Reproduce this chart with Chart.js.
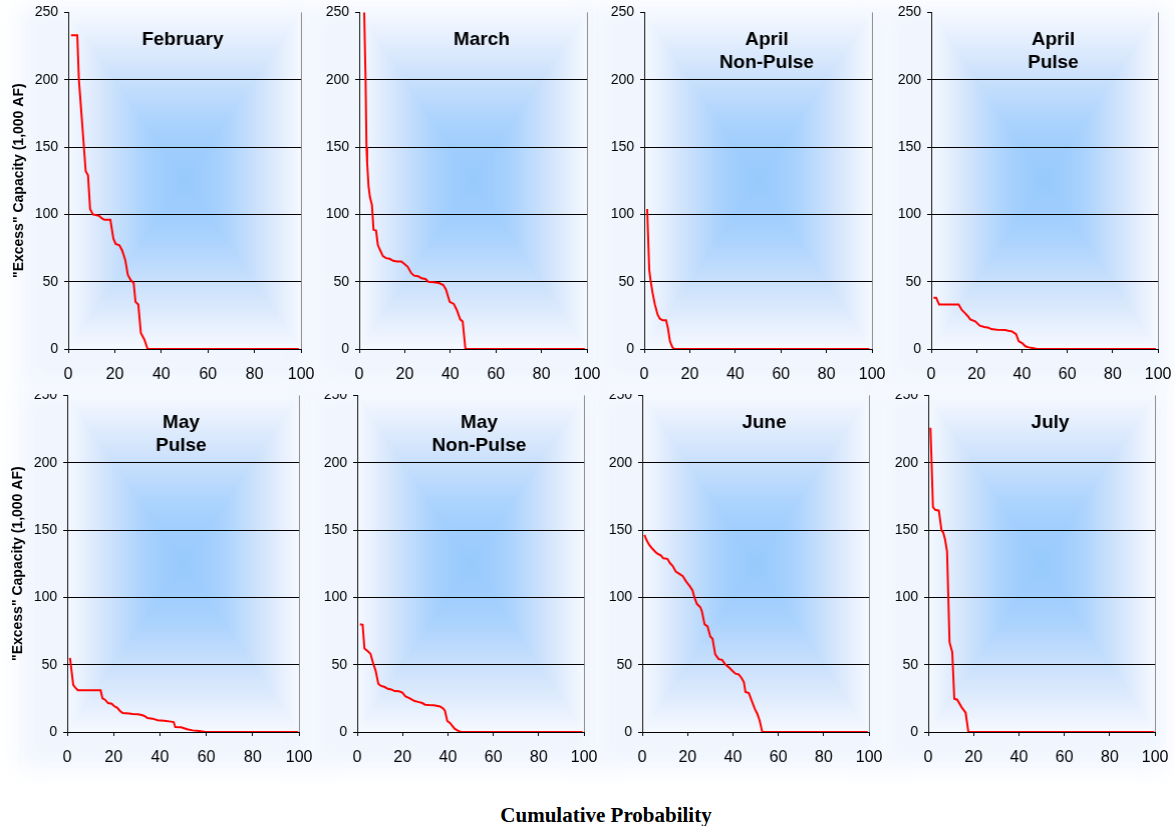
<!DOCTYPE html>
<html>
<head>
<meta charset="utf-8">
<script src="https://cdn.jsdelivr.net/npm/chart.js@4.4.1/dist/chart.umd.min.js"></script>
<style>
  html, body { margin: 0; padding: 0; background: #ffffff; }
  #page { position: relative; width: 1175px; height: 826px; overflow: hidden; background: #ffffff; }
  .glow { position: absolute; background: #f0f5fe; filter: blur(12px); }
  .panel { position: absolute; display: block; }
  #upper { position: absolute; left: 0; top: 0; width: 1175px; height: 394px; }
  #lower { position: absolute; left: 0; top: 394px; width: 1175px; height: 432px; overflow: hidden; }
  #xtitle { position: absolute; left: 0; top: 803px; width: 1212px; text-align: center;
            font: bold 21px/24px "Liberation Serif", "Times New Roman", serif; color: #000; }
</style>
</head>
<body>
<div id="page">
  <div id="glows"></div>
  <div id="upper"></div>
  <div id="lower"></div>
  <div id="xtitle"></div>
</div>
<script>
// ---- chart values -------------------------------------------------------
const panelTitles = [
  ['February'], ['March'], ['April', 'Non-Pulse'], ['April', 'Pulse'],
  ['May', 'Pulse'], ['May', 'Non-Pulse'], ['June'], ['July']
];
const xTicks = [0, 20, 40, 60, 80, 100];
const yTicks = [0, 50, 100, 150, 200, 250];
const yAxisTitle = '"Excess" Capacity (1,000 AF)';
const xAxisTitle = 'Cumulative Probability';

const febX = [1.2, 3.9, 4.6, 7.5, 8.5, 9.4, 10.6, 13.2, 14.5, 15.5, 18.1, 19.4, 20.4, 22.0, 23.2, 24.5, 25.6, 26.9, 28.1, 28.9, 30.1, 31.2, 32.7, 34.1, 99.0];
const febY = [233, 233, 200, 132, 129, 104, 100, 99, 97, 96, 96, 82, 78, 77, 73, 66, 55, 51, 49, 35, 33, 12, 7, 0, 0];

const marX = [1.2, 2.2, 2.8, 3.2, 3.5, 4.1, 4.7, 5.6, 6.3, 7.4, 8.2, 9.3, 10.4, 11.8, 13.4, 14.9, 16.6, 18.5, 20.0, 21.3, 22.8, 24.1, 25.9, 27.4, 29.1, 30.3, 32.8, 35.0, 36.9, 38.1, 39.7, 41.5, 42.8, 44.3, 45.4, 46.6, 99.0];
const marY = [340, 250, 200, 150, 138, 121, 113, 107, 88.5, 88, 77, 73, 69, 67.5, 67, 65.5, 65, 65, 63, 61, 56.5, 54.5, 54, 52.5, 52, 50, 49.5, 49, 47.5, 44, 35, 33.5, 29, 22, 20.5, 0, 0];

const aprNonPulseX = [1.3, 2.2, 2.8, 3.7, 4.7, 5.9, 6.9, 8.1, 9.6, 10.4, 11.3, 12.4, 13.2, 98.8];
const aprNonPulseY = [104, 59, 51, 41.5, 33, 25.5, 22.5, 21.3, 21.3, 15.6, 5.7, 1.2, 0, 0];

const aprPulseX = [1.0, 2.2, 3.5, 12.1, 13.5, 14.7, 16.1, 17.2, 19.4, 21.4, 23.4, 25.3, 26.4, 29.0, 32.7, 34.5, 35.6, 37.4, 38.6, 40.1, 41.5, 43.0, 45.2, 46.7, 99.0];
const aprPulseY = [38, 38, 33, 33, 29, 27, 24.5, 22, 20.5, 17.3, 16.3, 15.8, 14.8, 14.3, 14.1, 13.3, 13.1, 11.1, 5.7, 4.4, 2, 1.2, 0.5, 0, 0];

const mayPulseX = [1.2, 2.6, 3.5, 4.6, 14.4, 15.2, 16.3, 17.6, 19.2, 20.2, 21.6, 22.8, 23.9, 26.7, 28.1, 30.6, 32.5, 33.6, 34.6, 36.8, 39.0, 41.8, 44.7, 45.9, 46.6, 49.1, 51.7, 54.1, 57.0, 59.6, 99.6];
const mayPulseY = [55, 35, 33, 31, 31, 25, 24, 21.5, 21, 19.3, 18, 15.6, 14.1, 13.8, 13.3, 13.1, 12.4, 11.6, 10.4, 9.9, 8.7, 8.4, 7.7, 7.4, 3.7, 3.5, 2, 1.2, 0.7, 0, 0];

const mayNonPulseX = [1.2, 2.4, 3.2, 4.7, 5.9, 7.1, 8.1, 9.3, 10.3, 12.1, 13.5, 15.0, 16.5, 18.4, 19.9, 21.3, 23.2, 25.3, 27.2, 28.7, 29.9, 31.6, 33.8, 36.5, 38.0, 38.7, 39.7, 40.9, 42.9, 44.1, 45.6, 99.3];
const mayNonPulseY = [80, 79.6, 62, 60, 58, 50.7, 45.7, 35.8, 34.4, 33.4, 32.1, 31.6, 30.4, 30.2, 29.2, 26.5, 25, 23, 22.2, 21.5, 20.3, 20, 19.8, 19, 17.3, 15.6, 8.2, 6.7, 2.5, 1.2, 0, 0];

const junX = [1.0, 1.9, 3.1, 4.6, 6.4, 8.3, 9.3, 11.1, 12.3, 13.4, 14.8, 16.4, 17.9, 19.4, 21.1, 22.2, 23.0, 24.1, 25.6, 26.3, 27.5, 28.8, 30.0, 31.0, 32.2, 33.7, 35.2, 36.6, 38.1, 39.6, 41.1, 42.5, 43.7, 44.8, 45.5, 47.0, 48.2, 49.6, 50.7, 51.8, 52.9, 99.4];
const junY = [146.4, 142.6, 138.9, 135.9, 132.8, 131, 129, 128.6, 125.3, 123.4, 119.2, 117.4, 115.7, 111.7, 108, 105.1, 100.1, 95.2, 92.7, 89.7, 79.9, 78.4, 71, 69.2, 57.6, 54.1, 53.6, 50.2, 48.2, 45.7, 43.3, 42.8, 40.3, 37.1, 29.7, 28.9, 23.5, 17.3, 13.6, 8.2, 0, 0];

const julX = [1.0, 1.5, 2.1, 3.1, 4.7, 5.9, 6.6, 7.4, 8.3, 9.4, 10.6, 11.5, 12.8, 14.7, 16.5, 17.7, 99.6];
const julY = [226, 200, 167, 165, 164.4, 149.6, 148.3, 143.4, 134.2, 66.7, 59.3, 24.7, 24, 18.5, 14.3, 0, 0];

const seriesX = [febX, marX, aprNonPulseX, aprPulseX, mayPulseX, mayNonPulseX, junX, julX];
const seriesY = [febY, marY, aprNonPulseY, aprPulseY, mayPulseY, mayNonPulseY, junY, julY];

// ---- page layout (plot-area pixel bounds) -------------------------------
const rows = [{ top: 12, bottom: 349 }, { top: 395, bottom: 732 }];
const panels = [
  { x0: 68,  x1: 300,  row: 0, yTitle: true,  titleShift: -2 },
  { x0: 359, x1: 586,  row: 0, yTitle: false, titleShift: 8.5 },
  { x0: 644, x1: 871,  row: 0, yTitle: false, titleShift: 8.5 },
  { x0: 931, x1: 1157, row: 0, yTitle: false, titleShift: 8.5 },
  { x0: 67,  x1: 298,  row: 1, yTitle: true,  titleShift: -2 },
  { x0: 357, x1: 583,  row: 1, yTitle: false, titleShift: 8.5 },
  { x0: 642, x1: 868,  row: 1, yTitle: false, titleShift: 8.5 },
  { x0: 928, x1: 1154, row: 1, yTitle: false, titleShift: 8.5 }
];
const LOWER_TOP = 394;
const SANS = '"Liberation Sans", Arial, sans-serif';

// plot area fill: rectangular gradient, pale at the edges, blue at the centre
const fillStops = [
  [0.00, '#f6f9ff'], [0.08, '#edf4fe'], [0.20, '#e0ecfd'], [0.35, '#cfe3fc'],
  [0.50, '#bddbfd'], [0.65, '#abd3fd'], [0.80, '#a0cefd'], [1.00, '#98cafd']
];

const plotFill = {
  id: 'plotFill',
  beforeDraw(chart) {
    const { ctx, chartArea: { left, top, right, bottom } } = chart;
    const cx = (left + right) / 2, cy = (top + bottom) / 2;
    ctx.save();
    const gv = ctx.createLinearGradient(0, top, 0, bottom);
    fillStops.forEach(([t, c]) => { gv.addColorStop(t / 2, c); gv.addColorStop(1 - t / 2, c); });
    ctx.fillStyle = gv;
    ctx.fillRect(left, top, right - left, bottom - top);
    ctx.beginPath();
    ctx.moveTo(left, top); ctx.lineTo(cx, cy); ctx.lineTo(left, bottom); ctx.closePath();
    ctx.moveTo(right, top); ctx.lineTo(cx, cy); ctx.lineTo(right, bottom); ctx.closePath();
    ctx.clip();
    const gh = ctx.createLinearGradient(left, 0, right, 0);
    fillStops.forEach(([t, c]) => { gh.addColorStop(t / 2, c); gh.addColorStop(1 - t / 2, c); });
    ctx.fillStyle = gh;
    ctx.fillRect(left, top, right - left, bottom - top);
    ctx.restore();
  }
};

// panel heading drawn inside the top of the plot area
const panelHeading = {
  id: 'panelHeading',
  afterDraw(chart, args, opts) {
    const { ctx, chartArea: { left, right, top } } = chart;
    ctx.save();
    ctx.font = 'bold 19px ' + SANS;
    ctx.fillStyle = '#000';
    ctx.textAlign = 'center';
    ctx.textBaseline = 'alphabetic';
    const x = (left + right) / 2 + opts.shift;
    opts.lines.forEach((line, i) => ctx.fillText(line, x, top + 33 + i * 22.8));
    ctx.restore();
  }
};

const glows = document.getElementById('glows');
const upper = document.getElementById('upper');
const lower = document.getElementById('lower');
document.getElementById('xtitle').textContent = xAxisTitle;

function buildChart(cv, i, p, L, T, R, B, w, h) {
  cv.width = w; cv.height = h;
  cv.style.width = w + 'px'; cv.style.height = h + 'px';
  const points = seriesX[i].map((x, k) => ({ x: x, y: seriesY[i][k] }));
  return new Chart(cv, {
    type: 'line',
    data: {
      datasets: [{
        data: points,
        borderColor: '#ff0000',
        borderWidth: 2,
        pointRadius: 0,
        tension: 0,
        fill: false
      }]
    },
    options: {
      responsive: false,
      animation: false,
      events: [],
      layout: { padding: { left: 0, top: T, right: R, bottom: 0 } },
      plugins: {
        legend: { display: false },
        tooltip: { enabled: false },
        panelHeading: { lines: panelTitles[i], shift: p.titleShift }
      },
      scales: {
        x: {
          type: 'linear',
          min: 0, max: 100,
          afterBuildTicks: (s) => { s.ticks = xTicks.map(v => ({ value: v })); },
          afterFit: (s) => { s.height = B; },
          ticks: { color: '#000', font: { family: SANS, size: 16 }, padding: 11.5, maxRotation: 0, autoSkip: false },
          grid: {
            drawOnChartArea: true,
            color: (c) => (c.tick && c.tick.value === 100) ? '#8c8c8c' : 'rgba(0,0,0,0)',
            tickColor: '#000',
            tickLength: 4,
            lineWidth: 1
          },
          border: { display: true, color: '#000', width: 1 }
        },
        y: {
          type: 'linear',
          min: 0, max: 250,
          afterBuildTicks: (s) => { s.ticks = yTicks.map(v => ({ value: v })); },
          afterFit: (s) => { s.width = L; },
          ticks: { color: '#000', font: { family: SANS, size: 14 }, padding: 6 },
          grid: {
            color: (c) => (c.tick && (c.tick.value === 0 || c.tick.value === 250)) ? 'rgba(0,0,0,0)' : '#000',
            tickColor: '#000',
            tickLength: 4,
            lineWidth: 1
          },
          border: { display: true, color: '#111', width: 1 },
          title: {
            display: p.yTitle,
            text: yAxisTitle,
            color: '#000',
            font: { family: SANS, size: 14, weight: 'bold' },
            padding: { top: p.row === 0 ? 10.6 : 9.6, bottom: 0 }
          }
        }
      }
    },
    plugins: [plotFill, panelHeading]
  });
}

panels.forEach((p, i) => {
  const row = rows[p.row];
  const L = p.yTitle ? p.x0 : 60, T = 12, R = 18, B = 44;
  const wantW = p.x1 - p.x0, wantH = row.bottom - row.top;
  let w = wantW + L + R;
  let h = wantH + T + B;

  const g = document.createElement('div');
  g.className = 'glow';
  g.style.left = (p.x0 - 48) + 'px';
  g.style.top = (row.top - 6) + 'px';
  g.style.width = (wantW + 60) + 'px';
  g.style.height = (wantH + 42) + 'px';
  glows.appendChild(g);

  const holder = p.row === 1 ? lower : upper;
  const offY = p.row === 1 ? LOWER_TOP : 0;

  // first pass measures how the library lays out the plot area, second pass uses the corrected size
  let cv = document.createElement('canvas');
  cv.className = 'panel';
  holder.appendChild(cv);
  let chart = buildChart(cv, i, p, L, T, R, B, w, h);
  for (let pass = 0; pass < 2; pass++) {
    const a = chart.chartArea;
    const dw = wantW - (a.right - a.left);
    const dh = wantH - (a.bottom - a.top);
    if (Math.abs(dw) < 0.01 && Math.abs(dh) < 0.01) break;
    w += dw; h += dh;
    chart.destroy();
    cv.remove();
    cv = document.createElement('canvas');
    cv.className = 'panel';
    holder.appendChild(cv);
    chart = buildChart(cv, i, p, L, T, R, B, w, h);
  }
  const a = chart.chartArea;
  cv.style.left = (p.x0 - a.left) + 'px';
  cv.style.top = (row.top - a.top - offY) + 'px';
});
</script>
</body>
</html>
